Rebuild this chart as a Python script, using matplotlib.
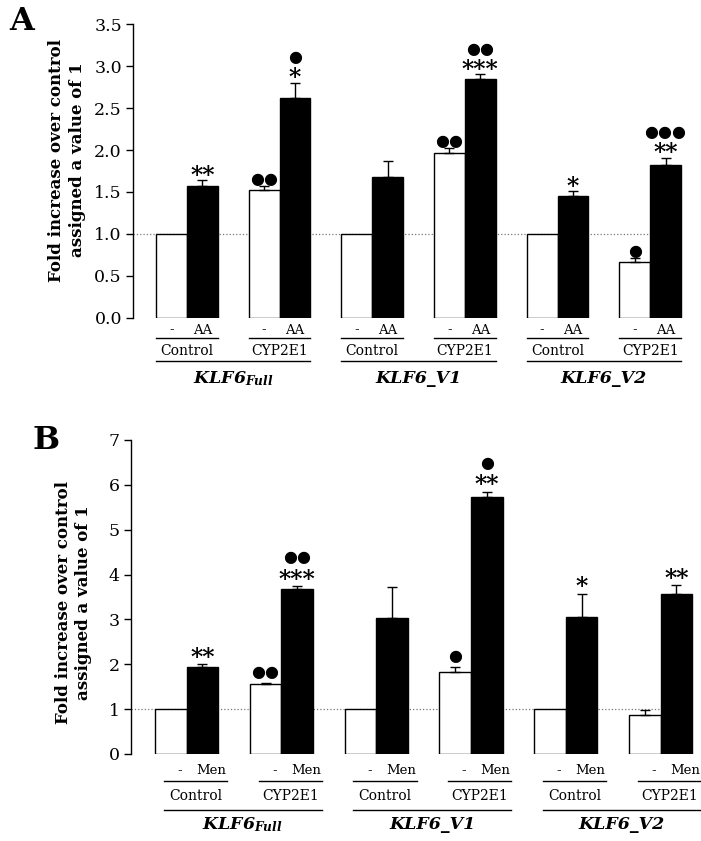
import matplotlib.pyplot as plt
from matplotlib import transforms

plt.rcParams['mathtext.fontset'] = 'dejavuserif'
plt.rcParams['font.family'] = ['DejaVu Serif', 'DejaVu Sans']

pair_labels = ['Control', 'CYP2E1', 'Control', 'CYP2E1', 'Control', 'CYP2E1']
gene_labels = [r'$\mathbfit{KLF6}_{\mathbfit{Full}}$', 'KLF6_V1', 'KLF6_V2']

# panel A: arachidonic acid (AA)
a_untreated = [1.0, 1.52, 1.0, 1.96, 1.0, 0.67]
a_untreated_err = [0, 0.05, 0, 0.06, 0, 0.04]
a_treated = [1.57, 2.62, 1.68, 2.85, 1.45, 1.825]
a_treated_err = [0.07, 0.18, 0.19, 0.05, 0.06, 0.08]
a_stars_u = ['', '', '', '', '', '']
a_dots_u = ['', '●●', '', '●●', '', '●']
a_stars_t = ['**', '*', '', '***', '*', '**']
a_dots_t = ['', '●', '', '●●', '', '●●●']
a_ticks = [0, 0.5, 1.0, 1.5, 2.0, 2.5, 3.0, 3.5]
a_ticklabels = ['0.0', '0.5', '1.0', '1.5', '2.0', '2.5', '3.0', '3.5']

# panel B: menadione (Men)
b_untreated = [1.0, 1.55, 1.0, 1.83, 1.0, 0.86]
b_untreated_err = [0, 0.04, 0, 0.11, 0, 0.13]
b_treated = [1.94, 3.67, 3.03, 5.73, 3.05, 3.56]
b_treated_err = [0.06, 0.07, 0.69, 0.12, 0.52, 0.20]
b_stars_u = ['', '', '', '', '', '']
b_dots_u = ['', '●●', '', '●', '', '']
b_stars_t = ['**', '***', '', '**', '*', '**']
b_dots_t = ['', '●●', '', '●', '', '']
b_ticks = [0, 1, 2, 3, 4, 5, 6, 7]
b_ticklabels = ['0', '1', '2', '3', '4', '5', '6', '7']


def px(p):
    return p * 0.72


def mark(ax, x, top, stars, dots, offs):
    if stars:
        ax.annotate(stars, (x, top), xytext=(0, px(offs[0])), textcoords='offset points',
                    ha='center', va='center', fontsize=17, fontweight='bold')
    if dots:
        off = offs[1] if stars else offs[2]
        ax.annotate(dots, (x, top), xytext=(0, px(off)), textcoords='offset points',
                    ha='center', va='center', fontsize=11.5, family='DejaVu Sans')


def panel(ax, untr, untr_err, tr, tr_err, st_u, dt_u, st_t, dt_t, treat,
          ticks, ticklabels, rows, shift, offs):
    pos = [3 * i for i in range(len(untr))]
    xu = [p - 0.5 for p in pos]
    xt = [p + 0.5 for p in pos]
    ax.bar(xu, untr, width=1, color='white', edgecolor='black', linewidth=1, zorder=3)
    ax.bar(xt, tr, width=1, color='black', edgecolor='black', linewidth=1, zorder=3)
    for xs, vals, errs in ((xu, untr, untr_err), (xt, tr, tr_err)):
        xs_e = [x for x, e in zip(xs, errs) if e > 0]
        v_e = [v for v, e in zip(vals, errs) if e > 0]
        e_e = [e for e in errs if e > 0]
        ax.errorbar(xs_e, v_e, yerr=[[0] * len(e_e), e_e], fmt='none', ecolor='black',
                    elinewidth=1, capsize=3.5, capthick=1, zorder=4)
    for i in range(len(pos)):
        mark(ax, xu[i], untr[i] + untr_err[i], st_u[i], dt_u[i], offs)
        mark(ax, xt[i], tr[i] + tr_err[i], st_t[i], dt_t[i], offs)

    ax.hlines(1, ax.get_xlim()[0], xt[-1] + 0.5, colors='#777777', linestyles=':',
              linewidth=0.9, zorder=1)

    ax.set_ylim(ticks[0], ticks[-1])
    ax.set_yticks(ticks, ticklabels, fontsize=12.5)
    ax.set_xticks([])
    for s in ('top', 'right', 'bottom'):
        ax.spines[s].set_visible(False)
    ax.spines['left'].set_linewidth(1)
    ax.tick_params(axis='y', direction='out', length=5, width=1, pad=3)

    trans = transforms.blended_transform_factory(ax.transData, ax.transAxes)
    for i in range(len(pos)):
        ax.text(xu[i] + shift, rows[0], '-', transform=trans, ha='center', va='center', fontsize=9.5)
        ax.text(xt[i] + shift, rows[0], treat, transform=trans, ha='center', va='center', fontsize=9.5)
        ax.plot([pos[i] - 1 + shift, pos[i] + 1 + shift], [rows[1], rows[1]], transform=trans,
                color='black', lw=1, clip_on=False)
        ax.text(pos[i] + shift, rows[2], pair_labels[i], transform=trans, ha='center',
                va='center', fontsize=10)
    for g in range(len(gene_labels)):
        left = pos[2 * g] - 1 + shift
        right = pos[2 * g + 1] + 1 + shift
        ax.plot([left, right], [rows[3], rows[3]], transform=trans, color='black', lw=1,
                clip_on=False)
        ax.text((left + right) / 2, rows[4], gene_labels[g], transform=trans, ha='center',
                va='center', fontsize=12.5, fontweight='bold', style='italic')


fig = plt.figure(figsize=(7.01, 8.41), dpi=100)

ax_a = fig.add_axes([133 / 701, 1 - 318 / 841, 557 / 701, 294 / 841])
ax_a.set_xlim(-1.745, 16.29)
panel(ax_a, a_untreated, a_untreated_err, a_treated, a_treated_err,
      a_stars_u, a_dots_u, a_stars_t, a_dots_t, 'AA', a_ticks, a_ticklabels,
      [-0.041, -0.0697, -0.112, -0.1463, -0.205], 0.0, (4.5, 25, 7))

ax_b = fig.add_axes([131 / 701, 1 - 754 / 841, 569 / 701, 314 / 841])
ax_b.set_xlim(-1.76, 16.25)
panel(ax_b, b_untreated, b_untreated_err, b_treated, b_treated_err,
      b_stars_u, b_dots_u, b_stars_t, b_dots_t, 'Men', b_ticks, b_ticklabels,
      [-0.0516, -0.0844, -0.1325, -0.177, -0.224], 0.28, (6.5, 28.5, 10.5))

ylab = 'Fold increase over control\nassigned a value of 1'
fig.text(67 / 701, 1 - 160 / 841, ylab, rotation=90, ha='center', va='center',
         fontsize=12, fontweight='bold', linespacing=1.3)
fig.text(73.5 / 701, 1 - 603 / 841, ylab, rotation=90, ha='center', va='center',
         fontsize=12, fontweight='bold', linespacing=1.3)

fig.text(22 / 701, 1 - 21 / 841, 'A', ha='center', va='center', fontsize=23, fontweight='bold')
fig.text(46 / 701, 1 - 441 / 841, 'B', ha='center', va='center', fontsize=23, fontweight='bold')

fig.savefig('out.png', dpi=100)
